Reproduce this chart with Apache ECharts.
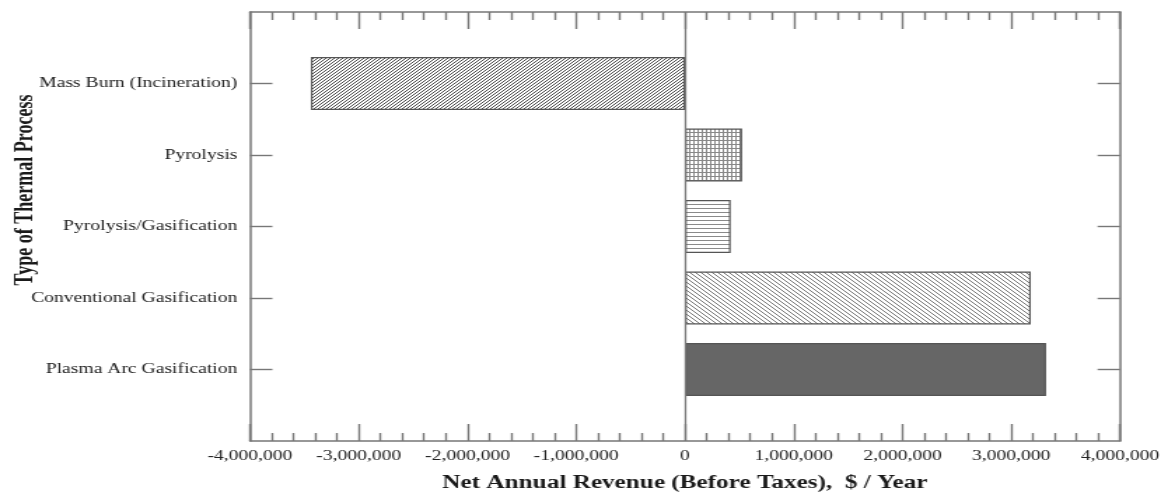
<!DOCTYPE html>
<html>
<head>
<meta charset="utf-8">
<script src="https://cdn.jsdelivr.net/npm/echarts@6/dist/echarts.min.js"></script>
<style>
  html, body { margin: 0; padding: 0; background: #fff; overflow: hidden; }
  /* The figure is laid out on a narrower canvas and widened, giving the stretched serif look */
  #chart { width: 834px; height: 493px; transform: scaleX(1.40048); transform-origin: 0 0; }
</style>
</head>
<body>
<div id="chart"></div>
<script>
// Net annual revenue by thermal process ($ / year, before taxes)
const categories = [
  'Mass Burn (Incineration)',
  'Pyrolysis',
  'Pyrolysis/Gasification',
  'Conventional Gasification',
  'Plasma Arc Gasification'
];
const revenue = [-3440000, 525000, 420000, 3180000, 3320000];

// Value axis extent and tick step
const xMin = -4000000;
const xMax = 4000000;
const xStep = 1000000;

const yTitle = 'Type of Thermal Process';
const xTitle = 'Net Annual Revenue (Before Taxes),  $ / Year';

// Fill patterns for the bars
function makePattern(w, h, draw) {
  const c = document.createElement('canvas');
  c.width = w; c.height = h;
  const g = c.getContext('2d');
  g.fillStyle = '#fff';
  g.fillRect(0, 0, w, h);
  draw(g, w, h);
  return { image: c, repeat: 'repeat' };
}
function diagonal(n, color, forward) {
  return makePattern(n, n, (g) => {
    g.strokeStyle = color; g.lineWidth = 1;
    g.beginPath();
    for (let k = -n; k <= n; k += n) {
      if (forward) { g.moveTo(k, n); g.lineTo(k + n, 0); }
      else { g.moveTo(k, 0); g.lineTo(k + n, n); }
    }
    g.stroke();
  });
}
const fills = [
  diagonal(3, '#4a4a4a', true),
  makePattern(3, 4, (g, w, h) => {
    g.fillStyle = '#888';
    g.fillRect(0, 0, 1, h);
    g.fillRect(0, 0, w, 1);
  }),
  makePattern(4, 4, (g, w) => {
    g.fillStyle = '#8a8a8a';
    g.fillRect(0, 0, w, 1);
  }),
  diagonal(4, '#777', false),
  '#666666'
];

// Blank slots at both ends keep the categories off the frame edges
const yData = [''].concat(categories, ['']);
const barData = [null].concat(revenue.map((v, i) => ({
  value: v,
  itemStyle: { color: fills[i], borderColor: '#555', borderWidth: 1.2 }
})), [null]);

const axisColor = '#777';
const serif = "'Liberation Serif', 'Times New Roman', serif";
const hasName = (idx, val) => val !== '';

const chart = echarts.init(document.getElementById('chart'), null, { renderer: 'canvas' });

const xAxisBase = {
  type: 'value',
  min: xMin,
  max: xMax,
  interval: xStep,
  splitLine: { show: false },
  axisLine: { show: true, onZero: false, lineStyle: { color: axisColor, width: 1.5 } },
  axisTick: { show: true, inside: true, length: 17, lineStyle: { color: axisColor, width: 1.4 } },
  minorTick: { show: true, splitNumber: 5, length: 8, lineStyle: { color: axisColor, width: 1.4 } },
  minorSplitLine: { show: false }
};
const yAxisBase = {
  type: 'category',
  data: yData,
  inverse: true,
  boundaryGap: false,
  splitLine: { show: false },
  axisLine: { show: true, onZero: false, lineStyle: { color: axisColor, width: 1.5 } },
  axisTick: { show: true, inside: true, length: 16, interval: hasName, lineStyle: { color: axisColor, width: 1.4 } }
};

chart.setOption({
  animation: false,
  backgroundColor: '#fff',
  grid: { left: 178.5, right: 34.3, top: 12, bottom: 52, outerBoundsMode: 'none', containLabel: false },
  xAxis: [
    Object.assign({}, xAxisBase, {
      position: 'bottom',
      axisLabel: {
        margin: 8,
        color: '#222',
        fontFamily: serif,
        fontSize: 14,
        formatter: (v) => (v < 0 ? '-' : '') + Math.abs(v).toLocaleString('en-US')
      },
      name: xTitle,
      nameLocation: 'middle',
      nameGap: 33,
      nameTextStyle: { color: '#1a1a1a', fontFamily: serif, fontSize: 18, fontWeight: 'bold' }
    }),
    Object.assign({}, xAxisBase, { position: 'top', axisLabel: { show: false } })
  ],
  yAxis: [
    Object.assign({}, yAxisBase, {
      position: 'left',
      axisLabel: { margin: 9, color: '#222', fontFamily: serif, fontSize: 14, interval: 0 }
    }),
    Object.assign({}, yAxisBase, { position: 'right', axisLabel: { show: false } })
  ],
  graphic: [{
    type: 'text',
    x: 18,
    y: 190,
    rotation: Math.PI / 2,
    style: {
      text: yTitle,
      font: "bold 18px 'Liberation Serif', serif",
      fill: '#1a1a1a',
      align: 'center',
      verticalAlign: 'middle'
    }
  }],
  series: [{
    type: 'bar',
    xAxisIndex: 0,
    yAxisIndex: 0,
    barWidth: 53,
    data: barData,
    silent: true,
    markLine: {
      silent: true,
      symbol: 'none',
      label: { show: false },
      lineStyle: { color: axisColor, width: 1.3, type: 'solid' },
      data: [{ xAxis: 0 }]
    }
  }]
});
</script>
</body>
</html>
